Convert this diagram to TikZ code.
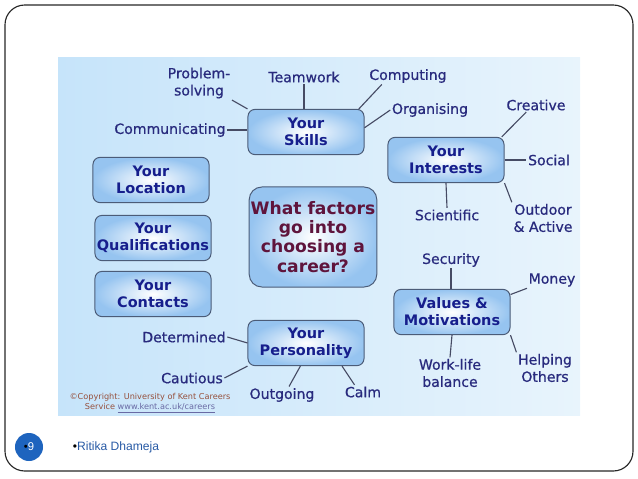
\documentclass[tikz,border=0pt]{standalone}
\usepackage{fontspec}
\setmainfont{DejaVu Sans}
\newfontfamily\labelfont[FakeBold=0.7]{DejaVu Sans}
\newfontfamily\footfont{Liberation Sans}
\usetikzlibrary{positioning}

\definecolor{labelblue}{RGB}{40,42,125}
\definecolor{boxtext}{RGB}{22,30,140}
\definecolor{boxedge}{RGB}{75,92,120}
\definecolor{boxfill}{RGB}{150,196,240}
\definecolor{qcolor}{RGB}{95,20,60}
\definecolor{bgblue}{RGB}{198,228,250}
\definecolor{bglight}{RGB}{232,244,252}
\definecolor{linkgray}{RGB}{70,75,100}
\definecolor{pagecircle}{RGB}{30,100,190}
\definecolor{footblue}{RGB}{40,90,165}
\definecolor{copytext}{RGB}{150,80,60}

\begin{document}
\begin{tikzpicture}[
x=0.025cm, y=-0.025cm,
% Define block styles
factor/.style = {rectangle, rounded corners=5pt, draw=boxedge, line width=0.7pt, inner color=white, outer color=boxfill, minimum width=2.9cm, minimum height=1.13cm, align=center, text=boxtext, font=\bfseries\fontsize{10.3}{12.1}\selectfont, inner sep=1pt},
question/.style = {factor, rounded corners=9pt, minimum width=3.15cm, minimum height=2.5cm, text=qcolor, font=\bfseries\fontsize{12.2}{13.6}\selectfont},
item/.style = {align=center, text=labelblue, font=\labelfont\fontsize{10}{12.2}\selectfont, inner sep=1pt},
link/.style = {draw=linkgray, line width=0.8pt}
]
\useasboundingbox (0,0) rectangle (638,479);

% Slide frame and picture background
\draw[black!85, line width=0.8pt, rounded corners=14pt] (5,5) rectangle (633,471);
\shade[left color=bgblue, right color=bglight] (58,58) rectangle (580,415);

% Main boxes
\node (career) [question] at (313,237) {What factors\\go into\\choosing a\\career?};
\node (skills) [factor] at (306,132) {Your\\Skills};
\node (interests) [factor] at (446,160) {Your\\Interests};
\node (values) [factor] at (452,312) {Values \&\\Motivations};
\node (personality) [factor] at (306,343) {Your\\Personality};
\node (location) [factor] at (151,180) {Your\\Location};
\node (qualifications) [factor] at (153,238) {Your\\Qualifications};
\node (contacts) [factor] at (153,294) {Your\\Contacts};

% Skills
\node (probsolve) [item] at (199,83) {Problem-\\solving};
\node (teamwork) [item] at (304,77) {Teamwork};
\node (computing) [item] at (408,76) {Computing};
\node (organising) [item] at (430,110) {Organising};
\node (communicating) [item] at (170,130) {Communicating};

% Interests
\node (creative) [item] at (536,105) {Creative};
\node (social) [item] at (549,160) {Social};
\node (outdoor) [item] at (543,218) {Outdoor\\\& Active};
\node (scientific) [item] at (447,215) {Scientific};

% Values
\node (security) [item] at (451,260) {Security};
\node (money) [item] at (552,280) {Money};
\node (worklife) [item] at (450,373) {Work-life\\balance};
\node (helping) [item] at (545,368) {Helping\\Others};

% Personality
\node (determined) [item] at (184,337) {Determined};
\node (cautious) [item] at (192,378) {Cautious};
\node (outgoing) [item] at (282,395) {Outgoing};
\node (calm) [item] at (363,392) {Calm};

% Copyright note
\node (copyright) [align=center, text=copytext, font=\fontsize{5.8}{6.8}\selectfont, inner sep=0pt] at (150,403)
  {\textcopyright Copyright: University of Kent Careers\\Service {\color{labelblue!70}\underline{www.kent.ac.uk/careers}}};

% Lines
\draw [link] (probsolve.south east) -- (skills.north west);
\draw [link] (teamwork.south) -- (teamwork.south |- skills.north);
\draw [link] ([xshift=10pt]computing.south west) -- ([xshift=-4pt]skills.north east);
\draw [link] (organising.west) -- ([yshift=3pt]skills.east);
\draw [link] (communicating.east) -- (communicating.east -| skills.west);

\draw [link] ([xshift=-7pt]creative.south) -- ([xshift=-2pt]interests.north east);
\draw [link] (interests.east) -- (social.west);
\draw [link] (interests.south east) -- (outdoor.north west);
\draw [link] (interests.south) -- (scientific.north);

\draw [link] (security.south) -- (security.south |- values.north);
\draw [link] (money.south west) -- ([yshift=-4pt]values.north east);
\draw [link] (values.south) -- (worklife.north);
\draw [link] (values.south east) -- (helping.north west);

\draw [link] (determined.east) -- (personality.west);
\draw [link] (cautious.east) -- (personality.south west);
\draw [link] ([xshift=5pt]outgoing.north) -- ([xshift=-4pt]personality.south);
\draw [link] ([xshift=-16pt]personality.south east) -- ([xshift=8pt]calm.north west);

% Footer
\node (pagenum) [circle, fill=pagecircle, minimum size=0.7cm, inner sep=0pt, font=\footfont\fontsize{8}{9}\selectfont] at (29,447) {\color{black}•\color{white}9};
\node (author) [font=\footfont\fontsize{8.6}{10}\selectfont, text=footblue, inner sep=0pt] at (116,447) {\color{black}•\color{footblue}Ritika Dhameja};
\end{tikzpicture}
\end{document}
